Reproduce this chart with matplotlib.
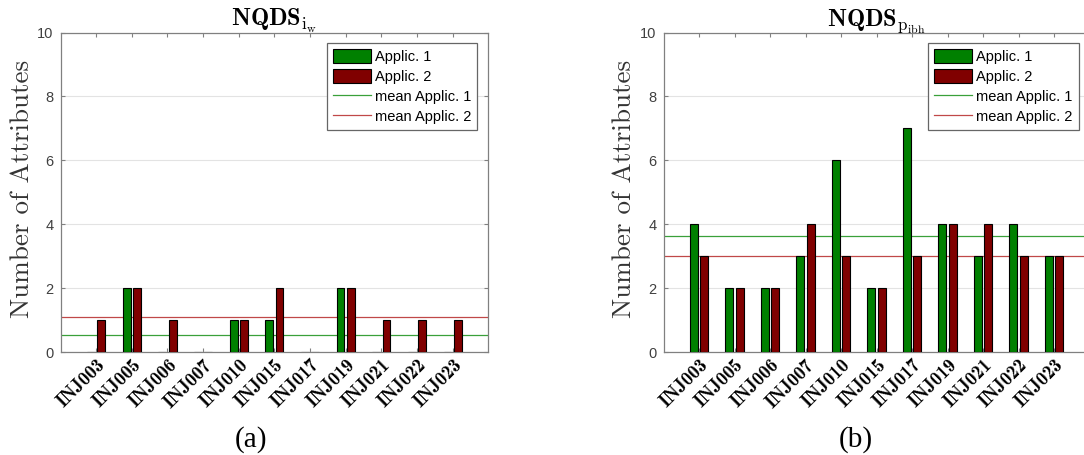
import numpy as np
import matplotlib.pyplot as plt
from matplotlib.patches import Patch
from matplotlib.lines import Line2D

plt.rcParams['mathtext.fontset'] = 'cm'

categories = ['INJ003', 'INJ005', 'INJ006', 'INJ007', 'INJ010', 'INJ015',
              'INJ017', 'INJ019', 'INJ021', 'INJ022', 'INJ023']
iw_app1 = [0, 2, 0, 0, 1, 1, 0, 2, 0, 0, 0]
iw_app2 = [1, 2, 1, 0, 1, 2, 0, 2, 1, 1, 1]
pibh_app1 = [4, 2, 2, 3, 6, 2, 7, 4, 3, 4, 3]
pibh_app2 = [3, 2, 2, 4, 3, 2, 3, 4, 4, 3, 3]
y_ticks = [0, 2, 4, 6, 8, 10]

green = '#008000'
red = '#800000'
mean_green = '#3aa03a'
mean_red = '#c04848'
axis_gray = '#808080'
text_gray = '#404040'

fig = plt.figure(figsize=(10.84, 4.55), dpi=100)


def draw_panel(ax, app1, app2, title, label_x):
    x = np.arange(1, len(categories) + 1)
    ax.bar(x - 0.145, app1, width=0.22, color=green, edgecolor='black',
           linewidth=0.8, zorder=3)
    ax.bar(x + 0.145, app2, width=0.22, color=red, edgecolor='black',
           linewidth=0.8, zorder=3)
    ax.axhline(np.mean(app1), color=mean_green, lw=0.9, zorder=2)
    ax.axhline(np.mean(app2), color=mean_red, lw=0.9, zorder=2)

    ax.set_xlim(0, 12)
    ax.set_ylim(0, 10)
    ax.set_xticks(x)
    ax.set_xticklabels(categories, rotation=45, ha='right', va='top',
                       rotation_mode='anchor', family='cmb10', fontsize=13.5,
                       color='black')
    ax.set_yticks(y_ticks)
    ax.set_yticklabels([str(v) for v in y_ticks], family='Liberation Sans',
                       fontsize=10.5, color=text_gray)
    ax.tick_params(axis='both', direction='in', length=3, top=True,
                   right=True, color=axis_gray)
    ax.tick_params(axis='x', pad=3)
    ax.tick_params(axis='y', pad=5)
    ax.yaxis.grid(True, color='#e3e3e3', lw=0.8)
    ax.set_axisbelow(True)
    for s in ax.spines.values():
        s.set_color(axis_gray)
        s.set_linewidth(0.9)

    ax.set_title(title, fontsize=17.5, pad=5)
    ax.set_ylabel('Number of Attributes', family='cmr10', fontsize=19.5,
                  color='#333333')
    ax.yaxis.set_label_coords(label_x, 0.51)

    handles = [Patch(facecolor=green, edgecolor='black', lw=0.8),
               Patch(facecolor=red, edgecolor='black', lw=0.8),
               Line2D([], [], color=mean_green, lw=0.9),
               Line2D([], [], color=mean_red, lw=0.9)]
    labels = ['Applic. 1', 'Applic. 2', 'mean Applic. 1', 'mean Applic. 2']
    leg = ax.legend(handles, labels, loc='upper right', fancybox=False,
                    framealpha=1, edgecolor='#666666',
                    prop={'family': 'Liberation Sans', 'size': 10.5},
                    handlelength=2.6, handleheight=1.05, handletextpad=0.3,
                    labelspacing=0.36, borderpad=0.4, borderaxespad=0.75)
    leg.get_frame().set_linewidth(0.9)


ax1 = fig.add_axes([60.5 / 1084, 103 / 455, 427.8 / 1084, 319.5 / 455])
draw_panel(ax1, iw_app1, iw_app2,
           r'$\mathbf{NQDS}_{\mathrm{i}_{\mathrm{w}}}$', -0.062)

ax2 = fig.add_axes([663.5 / 1084, 103 / 455, 426 / 1084, 319.5 / 455])
draw_panel(ax2, pibh_app1, pibh_app2,
           r'$\mathbf{NQDS}_{\mathrm{p}_{\mathrm{ibh}}}$', -0.064)

fig.text(251 / 1084, 1 - 440 / 455, '(a)', family='Liberation Serif',
         fontsize=21, ha='center', va='center')
fig.text(856 / 1084, 1 - 440 / 455, '(b)', family='Liberation Serif',
         fontsize=21, ha='center', va='center')

fig.savefig('out.png', dpi=100)
